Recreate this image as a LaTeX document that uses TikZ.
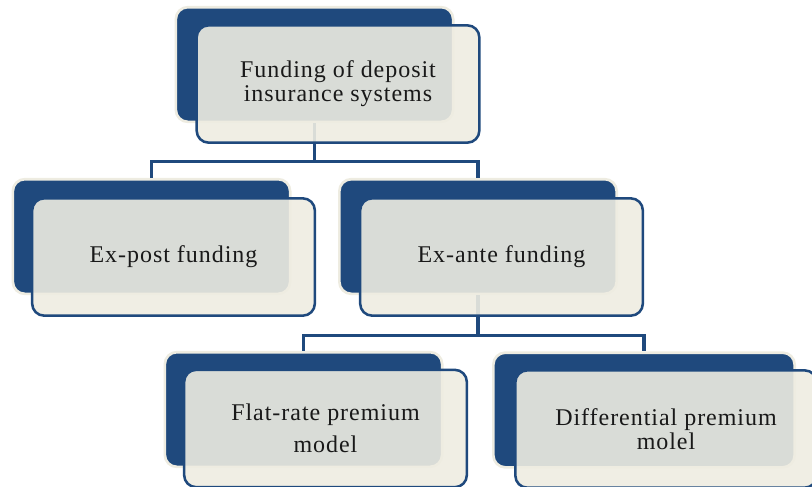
\documentclass[tikz,border=0pt]{standalone}
\usepackage{fontspec}
\setmainfont{Liberation Serif}[LetterSpace=4]
\usetikzlibrary{calc}
\definecolor{darkblue}{HTML}{1F497D}
\definecolor{cream}{HTML}{EEECE1}

\begin{document}
\begin{tikzpicture}[x=0.75pt, y=-0.75pt,
  backbox/.style={draw=cream, line width=2pt, fill=darkblue, rounded corners=9pt, minimum width=208pt, minimum height=86pt},
  frontbox/.style={draw=darkblue, line width=1.9pt, fill=cream, fill opacity=0.9, text opacity=1, rounded corners=9pt, minimum width=212pt, minimum height=88pt, align=center, font=\fontsize{18}{18}\selectfont, text=black!90},
  link/.style={darkblue, line width=2.3pt}]
\useasboundingbox (0,0) rectangle (812,486);
\clip (0,0) rectangle (812,486);

% back boxes
\node [backbox] (topB) at (314.5, 64.5) {};
\node [backbox] (expostB) at (151.5, 236.5) {};
\node [backbox] (exanteB) at (478, 236.5) {};
\node [backbox] (flatB) at (303.5, 409.5) {};
\node [backbox, minimum width=226pt] (diffB) at (644, 410) {};

% connectors
\coordinate (fork1) at ($(topB.south)+(0, 38)$);
\coordinate (fork2) at ($(exanteB.south)+(0, 40)$);
\draw [link] (topB.south) -- (fork1) -| (expostB.north);
\draw [link] (fork1) -| (exanteB.north);
\draw [link] (exanteB.south) -- (fork2) -| (flatB.north);
\draw [link] (fork2) -| (diffB.north);

% front boxes
\node [frontbox] (top) at (338, 84) {Funding of deposit\\insurance systems};
\node [frontbox] (expost) at (173.5, 257) {Ex-post funding};
\node [frontbox] (exante) at (501.5, 257) {Ex-ante funding};
\node [frontbox, font=\fontsize{18}{24}\selectfont] (flat) at (325.5, 428.5) {Flat-rate premium\\model};
\node [frontbox, minimum width=226pt] (diff) at (666, 429) {Differential premium\\molel};
\end{tikzpicture}
\end{document}
